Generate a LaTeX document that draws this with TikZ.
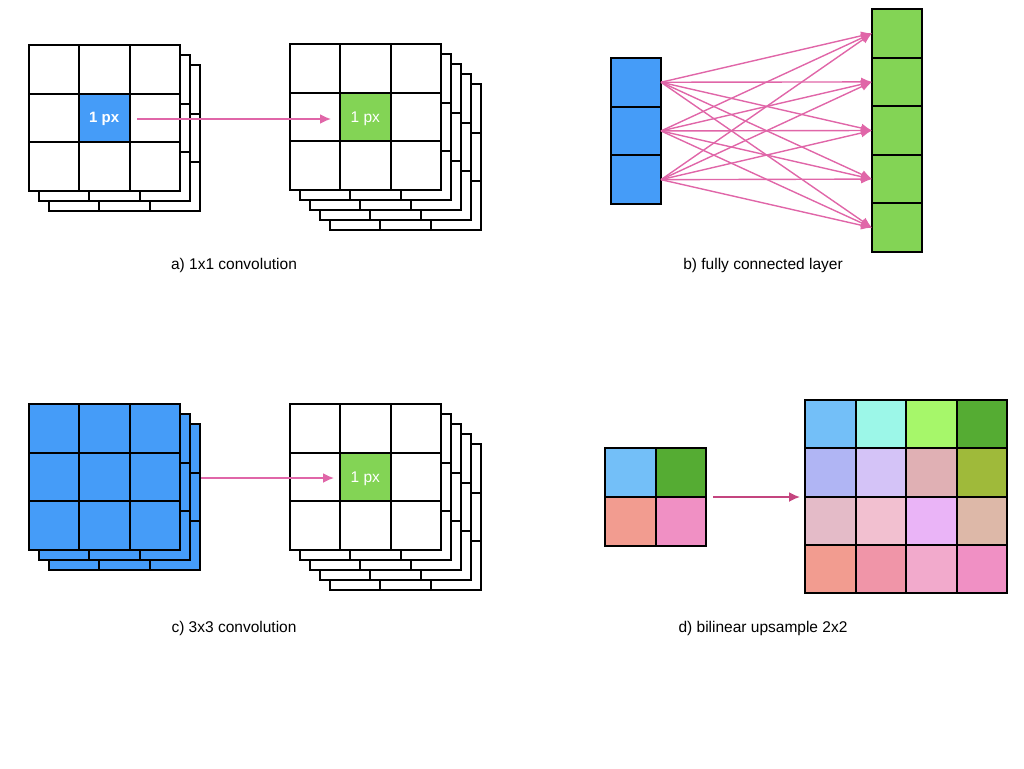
\documentclass[tikz,border=0pt]{standalone}
\usepackage{fontspec}
\setmainfont{Liberation Sans}
\usepackage{tikz}
\usetikzlibrary{arrows.meta, calc}

\definecolor{pxblue}{HTML}{459CF8}
\definecolor{pxgreen}{HTML}{83D455}
\definecolor{linkpink}{HTML}{E066A8}
\definecolor{uppink}{HTML}{C4457F}
% colours of the upsampled grid
\definecolor{u11}{HTML}{73BFF8}\definecolor{u21}{HTML}{9CF7E8}\definecolor{u31}{HTML}{A6F76A}\definecolor{u41}{HTML}{55AC33}
\definecolor{u12}{HTML}{B0B5F4}\definecolor{u22}{HTML}{D4C3F7}\definecolor{u32}{HTML}{E0B0B4}\definecolor{u42}{HTML}{9FBA3A}
\definecolor{u13}{HTML}{E4BBC8}\definecolor{u23}{HTML}{F2C0D0}\definecolor{u33}{HTML}{EAB4F7}\definecolor{u43}{HTML}{DDB8A8}
\definecolor{u14}{HTML}{F29C90}\definecolor{u24}{HTML}{F095A8}\definecolor{u34}{HTML}{F2AACC}\definecolor{u44}{HTML}{F090C4}

% #1 name, #2 x, #3 y, #4 fill  (one 3x3 layer: fills first, borders after)
\newcommand{\convlayer}[4]{%
  \foreach \i in {0,1,2}
    \foreach \j in {0,1,2}
      \node[cell, fill=#4] (#1-\i\j) at ({#2+50.5*\i},{#3+48.5*\j}) {};
  \foreach \i in {0,1,2}
    \foreach \j in {0,1,2}
      \draw[border] (#1-\i\j.north west) rectangle (#1-\i\j.south east);
}
% #1 name, #2 x, #3 y, #4 layers behind, #5 fill
\newcommand{\convstack}[5]{%
  \foreach \l in {#4,...,1}
    \convlayer{#1-l\l}{#2+10*\l}{#3+10*\l}{#5}
  \convlayer{#1}{#2}{#3}{#5}
}

\begin{document}
\begin{tikzpicture}[x=1pt, y=-1pt,
	            cell/.style={
	            anchor=north west,
	            inner sep=0pt,
	            outer sep=0pt,
	            minimum width=50.5pt,
	            minimum height=48.5pt,
	            text=white,
	            text depth=0pt,
	            font=\fontsize{15.5}{17}\selectfont
	            },
	            border/.style={
	            draw=black,
	            line width=2pt
	            },
	            caption/.style={
	            font=\fontsize{15.5}{17}\selectfont
	            },
	            link/.style={
	            draw=linkpink,
	            line width=1.8pt,
	            -{Latex[length=11pt,width=10pt]}
	            }]

	        \useasboundingbox (0,0) rectangle (1024,768);

	        % a) 1x1 convolution
	        \convstack{ain}{28.5}{45}{2}{white}
	        \node[cell, fill=pxblue, font=\bfseries\fontsize{15}{17}\selectfont] (ain-px) at ({28.5+50.5},{45+48.5}) {1 px};
	        \draw[border] (ain-px.north west) rectangle (ain-px.south east);
	        \convstack{aout}{289.5}{44}{4}{white}
	        \node[cell, fill=pxgreen] (aout-px) at ({289.5+50.5},{44+48.5}) {1 px};
	        \draw[border] (aout-px.north west) rectangle (aout-px.south east);
	        \coordinate (a-from) at (137,119);
	        \coordinate (a-to) at (331,119);
	        \draw[link] (a-from) -- (a-to);
	        \node[caption] (a-cap) at (234,265) {a) 1x1 convolution};

	        % b) fully connected layer
	        \foreach \k in {1,2,3}
	            \node[cell, fill=pxblue, minimum width=50pt] (b\k) at (611,{58+48.7*(\k-1)}) {};
	        \foreach \k in {1,...,5}
	            \node[cell, fill=pxgreen, minimum width=50.4pt, minimum height=48.6pt] (g\k) at (872,{9+48.6*(\k-1)}) {};
	        \foreach \k in {1,2,3}
	            \draw[border] (b\k.north west) rectangle (b\k.south east);
	        \foreach \k in {1,...,5}
	            \draw[border] (g\k.north west) rectangle (g\k.south east);
	        \foreach \k in {1,2,3}
	            \foreach \m in {1,...,5}
	                \draw[link, line width=1.4pt, -{Latex[length=11pt,width=9pt]}] (b\k.east) -- (g\m.west);
	        \node[caption] (b-cap) at (763,265) {b) fully connected layer};

	        % c) 3x3 convolution
	        \convstack{cin}{28.5}{404}{2}{pxblue}
	        \convstack{cout}{289.5}{404}{4}{white}
	        \node[cell, fill=pxgreen] (cout-px) at ({289.5+50.5},{404+48.5}) {1 px};
	        \draw[border] (cout-px.north west) rectangle (cout-px.south east);
	        \coordinate (c-from) at (201,478);
	        \coordinate (c-to) at (334,478);
	        \draw[link] (c-from) -- (c-to);
	        \node[caption] (c-cap) at (234,628) {c) 3x3 convolution};

	        % d) bilinear upsample 2x2
	        \node[cell, fill=u11, minimum width=50.5pt, minimum height=49pt] (s11) at (605,448) {};
	        \node[cell, fill=u41, minimum width=50.5pt, minimum height=49pt] (s21) at (655.5,448) {};
	        \node[cell, fill=u14, minimum width=50.5pt, minimum height=49pt] (s12) at (605,497) {};
	        \node[cell, fill=u44, minimum width=50.5pt, minimum height=49pt] (s22) at (655.5,497) {};
	        \foreach \n in {s11,s21,s12,s22}
	            \draw[border] (\n.north west) rectangle (\n.south east);
	        \foreach \i in {1,...,4}
	            \foreach \j in {1,...,4}
	                \node[cell, fill=u\i\j, minimum width=50.5pt, minimum height=48.3pt] (u-\i\j) at ({805+50.5*(\i-1)},{400+48.3*(\j-1)}) {};
	        \foreach \i in {1,...,4}
	            \foreach \j in {1,...,4}
	                \draw[border] (u-\i\j.north west) rectangle (u-\i\j.south east);
	        \coordinate (d-from) at (713,497);
	        \coordinate (d-to) at (800,497);
	        \draw[link, draw=uppink] (d-from) -- (d-to);
	        \node[caption] (d-cap) at (763,628) {d) bilinear upsample 2x2};

	    \end{tikzpicture}
\end{document}
